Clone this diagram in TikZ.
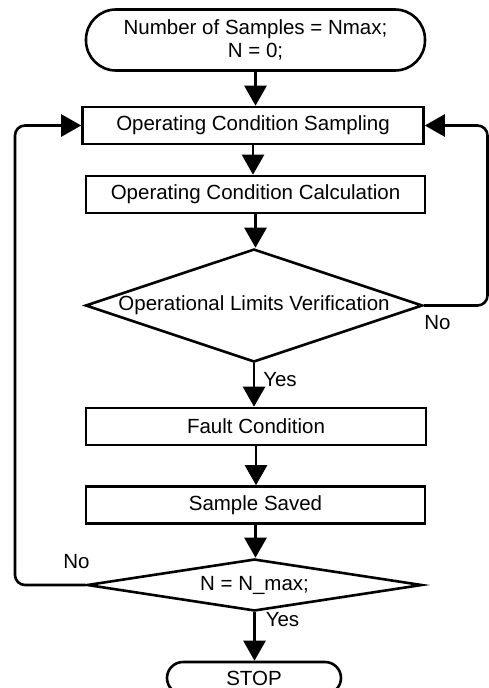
\documentclass[tikz,border=0pt]{standalone}
\usepackage{fontspec}
\setmainfont{Liberation Sans}
\usetikzlibrary{arrows.meta,shapes.geometric}
\begin{document}
\begin{tikzpicture}[x=1pt,y=-1pt,
  every node/.style={font=\fontsize{20.5}{23}\selectfont},
  base/.style={draw, line width=2.6pt, inner sep=0pt},
  proc/.style={base, rectangle, minimum height=37pt},
  term/.style={base, rectangle, align=center},
  dec/.style={base, diamond, aspect=3},
  flow/.style={line width=2.6pt, -{Triangle[length=20pt,width=22pt]}},
  loopback/.style={flow, rounded corners=10pt},
  lbl/.style={inner sep=0pt}]
\clip (0,0) rectangle (489,688);

% main column
\node[term, minimum width=339pt, minimum height=61pt, rounded corners=30pt]
  (start) at (255.5,40) {Number of Samples = Nmax;\\N = 0;};
\node[proc, minimum width=341pt] (sampling) at (253,125.5) {Operating Condition Sampling};
\node[proc, minimum width=339pt] (calc) at (255.5,194.5) {Operating Condition Calculation};
\node[dec, minimum width=337pt, minimum height=113pt] (limits) at (254,305.5) {Operational Limits Verification};
\node[proc, minimum width=340pt] (fault) at (256,426.5) {Fault Condition};
\node[proc, minimum width=339pt] (saved) at (255.5,505) {Sample Saved};
\node[dec, aspect=6.4, minimum width=335pt, minimum height=52pt] (count) at (254.5,585) {N = N\_max;};
\node[term, minimum width=174pt, minimum height=32pt, rounded corners=16pt]
  (stop) at (254,678) {STOP};

% branch labels
\node[lbl] (no1) at (437.5,323) {No};
\node[lbl] (yes1) at (280,380) {Yes};
\node[lbl] (no2) at (76.5,562) {No};
\node[lbl] (yes2) at (282.5,620) {Yes};

% forward flow
\draw[flow] (start.south) -- (start.south |- sampling.north);
\draw[flow] (sampling.south) -- (sampling.south |- calc.north);
\draw[flow] (calc.south) -- (calc.south |- limits.north);
\draw[flow] (limits.south) -- (limits.south |- fault.north);
\draw[flow] (fault.south) -- (fault.south |- saved.north);
\draw[flow] (saved.south) -- (saved.south |- count.north);
\draw[flow] (count.south) -- (count.south |- stop.north);

% feedback loops
\coordinate (leftrail) at (15,585);
\coordinate (rightrail) at (487.5,305.5);
\draw[loopback] (count.west) -- (leftrail) |- (sampling.west);
\draw[loopback] (limits.east) -- (rightrail) |- (sampling.east);
\end{tikzpicture}
\end{document}
